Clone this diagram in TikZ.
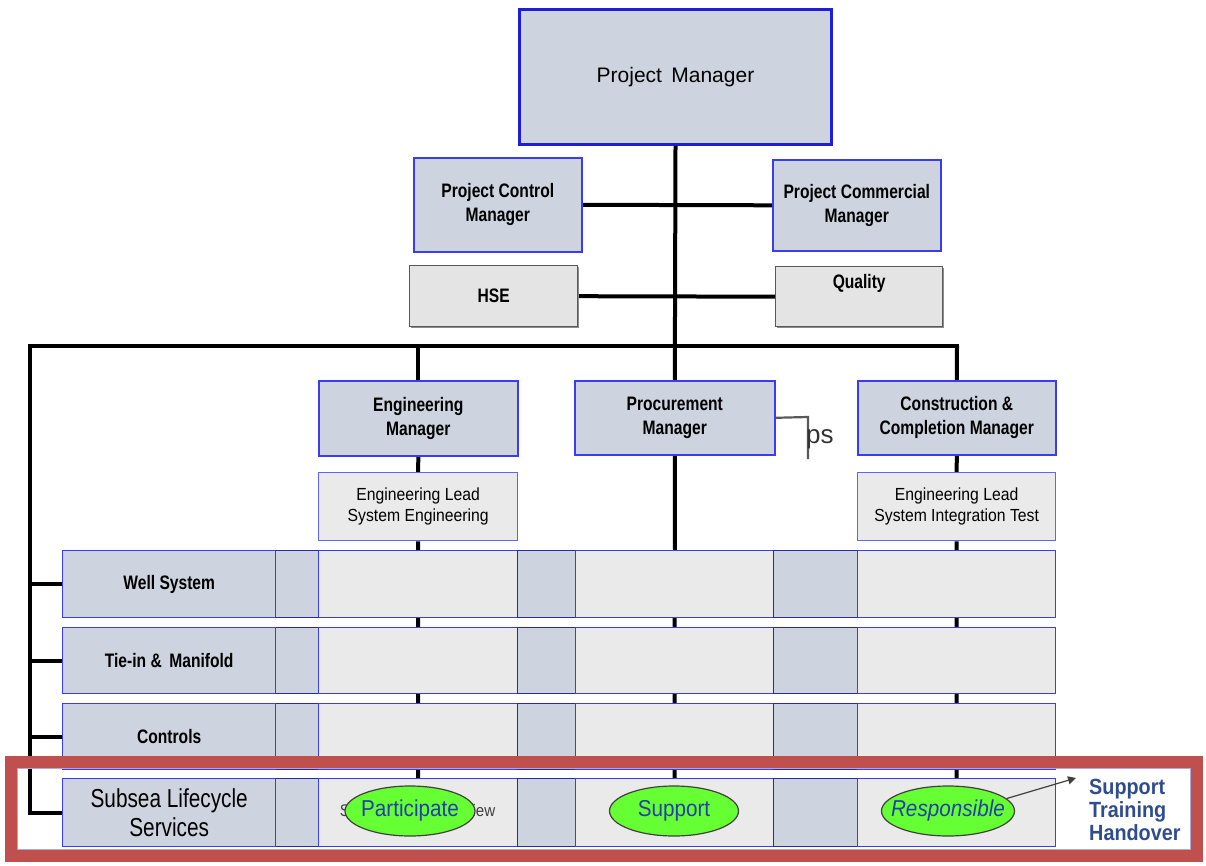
\documentclass[tikz,border=0pt]{standalone}
\usepackage{fontspec}
\setmainfont{Liberation Sans}
\newfontfamily\narrowsans[FakeStretch=0.8]{Liberation Sans}
\newfontfamily\semisans[FakeStretch=0.9]{Liberation Sans}
\usetikzlibrary{shapes.geometric,arrows.meta,shadows,backgrounds}

\definecolor{boxblue}{HTML}{CDD3DF}
\definecolor{cellgrey}{HTML}{EAEAEA}
\definecolor{hsegrey}{HTML}{E4E4E4}
\definecolor{edgeblue}{HTML}{3B3BF2}
\definecolor{pmblue}{HTML}{1E1ED8}
\definecolor{framered}{HTML}{C0504D}
\definecolor{ovalgreen}{HTML}{66FF33}
\definecolor{ovaltext}{HTML}{2340A8}
\definecolor{notetext}{HTML}{2F4D8C}

\tikzset{
  shade/.style={drop shadow={shadow xshift=1.5pt, shadow yshift=-1.5pt, fill=black!45, opacity=1}},
  pmbox/.style={draw=pmblue, line width=3pt, fill=boxblue, font=\fontsize{21}{24}\selectfont, inner sep=0pt},
  mgrbox/.style={draw=edgeblue, line width=1.6pt, fill=boxblue, shade, align=center, inner sep=0pt,
    font=\narrowsans\bfseries\fontsize{19.5}{24}\selectfont},
  staffbox/.style={draw=black!65, line width=1.4pt, fill=hsegrey, shade, align=center, inner sep=0pt,
    font=\narrowsans\bfseries\fontsize{19.5}{24}\selectfont},
  leadbox/.style={draw=edgeblue!80, line width=1.3pt, fill=cellgrey, align=center, inner sep=0pt,
    font=\semisans\fontsize{17.5}{20.5}\selectfont},
  rowlabel/.style={draw=edgeblue, line width=1.4pt, fill=boxblue, align=center, inner sep=0pt,
    font=\narrowsans\bfseries\fontsize{19.5}{24}\selectfont},
  lightcell/.style={draw=edgeblue, line width=1.2pt, fill=cellgrey, inner sep=0pt},
  gapcell/.style={draw=edgeblue!70!black, line width=1pt, fill=boxblue, inner sep=0pt},
  conn/.style={line width=4pt, black},
  oval/.style={ellipse, draw=black!75, line width=1.2pt, fill=ovalgreen, inner xsep=-16pt, inner ysep=-5pt,
    text=ovaltext, font=\semisans\fontsize{23}{25}\selectfont},
}

\begin{document}
\begin{tikzpicture}[x=1pt,y=-1pt]
\useasboundingbox (0,0) rectangle (1206,866);

% ---- top management
\node[pmbox, anchor=north west, minimum width=312pt, minimum height=135pt] (pm) at (518,8) {Project\, Manager};
\node[mgrbox, anchor=north west, minimum width=168pt, minimum height=94pt] (pcm) at (413,157) {Project Control\\Manager};
\node[mgrbox, anchor=north west, minimum width=168pt, minimum height=91pt] (pcom) at (772,159) {Project Commercial\\Manager};
\node[staffbox, anchor=north west, minimum width=168pt, minimum height=61pt] (hse) at (409,265) {HSE};
\node[staffbox, anchor=north west, minimum width=167pt, minimum height=60pt, text depth=30pt] (qual) at (775,266) {Quality};

% ---- functional managers
\node[mgrbox, anchor=north west, minimum width=199pt, minimum height=75pt] (eng) at (318,380) {Engineering\\Manager};
\node[mgrbox, anchor=north west, minimum width=200pt, minimum height=74pt] (proc) at (574,380) {Procurement\\Manager};
\node[mgrbox, anchor=north west, minimum width=198pt, minimum height=74pt] (cons) at (857,380) {Construction \&\\Completion Manager};
\node[leadbox, anchor=north west, minimum width=199pt, minimum height=68pt] (englead) at (318,472) {Engineering Lead\\System Engineering};
\node[leadbox, anchor=north west, minimum width=198pt, minimum height=68pt] (conslead) at (857,472) {Engineering Lead\\System Integration Test};

% ---- matrix rows
\foreach \r/\top/\h in {1/550/67, 2/627/66, 3/703/66, 4/778/68}{
  \node[gapcell, anchor=north west, minimum width=43pt, minimum height=\h pt] (r\r-g1) at (275,\top) {};
  \node[lightcell, anchor=north west, minimum width=199pt, minimum height=\h pt] (r\r-c1) at (318,\top) {};
  \node[gapcell, anchor=north west, minimum width=58pt, minimum height=\h pt] (r\r-g2) at (517,\top) {};
  \node[lightcell, anchor=north west, minimum width=198pt, minimum height=\h pt] (r\r-c2) at (575,\top) {};
  \node[gapcell, anchor=north west, minimum width=84pt, minimum height=\h pt] (r\r-g3) at (773,\top) {};
  \node[lightcell, anchor=north west, minimum width=198pt, minimum height=\h pt] (r\r-c3) at (857,\top) {};
}
\node[rowlabel, anchor=north west, minimum width=213pt, minimum height=67pt] (well) at (62,550) {Well System};
\node[rowlabel, anchor=north west, minimum width=213pt, minimum height=66pt] (tie) at (62,627) {Tie-in \&\, Manifold};
\node[rowlabel, anchor=north west, minimum width=213pt, minimum height=66pt] (ctrl) at (62,703) {Controls};
\node[rowlabel, anchor=north west, minimum width=213pt, minimum height=68pt,
      font=\narrowsans\fontsize{26}{29}\selectfont] (subsea) at (62,778) {Subsea Lifecycle\\Services};

% ---- connectors, behind the boxes
\coordinate (busL) at (30,346);
\coordinate (busR) at (957,346);
\begin{scope}[on background layer]
  \draw[conn] (pm.south) -- (proc.north);
  \draw[conn] (pcm.east) -- (pcom.west);
  \draw[conn] (hse.east) -- (qual.west);
  \draw[conn, line cap=rect] (busL) -- (busR);
  \draw[conn] (busL -| eng.north) -- (eng.north);
  \draw[conn] (busR) -- (cons.north);
  \draw[conn] (eng.south) -- (englead.north);
  \draw[conn] (englead.south) -- (r4-c1.north);
  \draw[conn] (proc.south) -- (r4-c2.north);
  \draw[conn] (cons.south) -- (conslead.north);
  \draw[conn] (conslead.south) -- (r4-c3.north);
  \draw[conn] (busL) -- (busL |- subsea.west) -- (subsea.west);
  \draw[conn] (busL |- well.west) -- (well.west);
  \draw[conn] (busL |- tie.west) -- (tie.west);
  \draw[conn] (busL |- ctrl.west) -- (ctrl.west);
\end{scope}

% ---- stray fragment beside procurement
\coordinate (psbend) at (808,417);
\coordinate (psend) at (808,459);
\draw[black!65, line width=2.2pt] (proc.east) -- (psbend) -- (psend);
\node[anchor=west, inner sep=0pt, text=black!80, font=\fontsize{26}{28}\selectfont] (ps) at (806,439) {ps};

% ---- highlight frame round the lifecycle row
\draw[framered, line width=12pt] (11,762) rectangle (1197,856);
\draw[black!30!edgeblue!40, line width=1pt] (17.5,768.5) rectangle (1190.5,849.5);

% ---- involvement ovals
\node[inner sep=0pt, text=black!75, font=\semisans\fontsize{16.8}{19}\selectfont] (review) at (417.5,812) {System Design Review};
\node[oval, minimum width=130pt, minimum height=50pt] (part) at (410,811) {Participate};
\node[oval, minimum width=129pt, minimum height=50pt] (supp) at (674,811) {Support};
\node[oval, minimum width=133pt, minimum height=50pt, font=\semisans\itshape\fontsize{23}{25}\selectfont] (resp) at (948,811) {Responsible};

\node[anchor=west, align=left, inner sep=0pt, text=notetext,
      font=\semisans\bfseries\fontsize{22}{23}\selectfont] (note) at (1089,810) {Support\\Training\\Handover};
\coordinate (notetip) at (1076,778);
\draw[black!75, line width=1.2pt, -{Triangle[length=8pt,width=8pt]}] (resp.12) -- (notetip);

\end{tikzpicture}
\end{document}
